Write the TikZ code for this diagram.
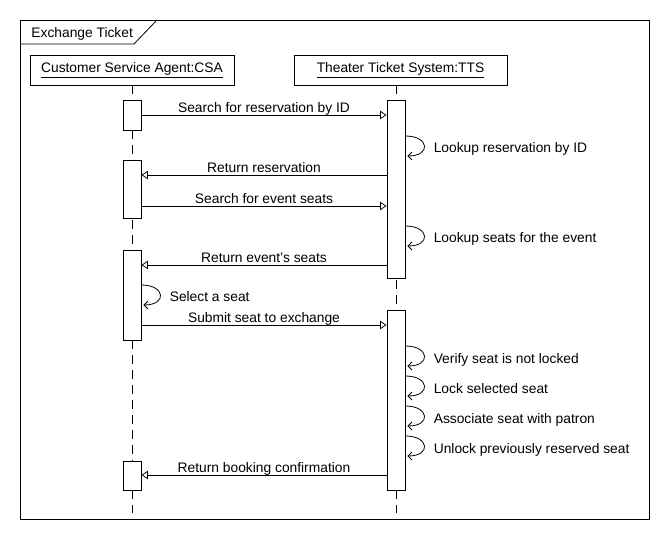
\documentclass[tikz,border=0pt]{standalone}
\usepackage{fontspec}
\setmainfont{Liberation Sans}
\usetikzlibrary{arrows.meta,calc}

\tikzset{
  txt/.style={font=\fontsize{13.8}{16}\selectfont, inner sep=0pt},
  head/.style={txt, draw, fill=white, minimum height=30pt},
  act/.style={draw, fill=white, minimum width=18pt, inner sep=0pt},
  life/.style={dash pattern=on 9pt off 6pt},
  msg/.style={-{Triangle[open,length=6.5pt,width=8.5pt]}},
  call/.style={-{Straight Barb[length=4pt,width=8pt]}},
  lbl/.style={txt, anchor=base, yshift=2.2pt},
  note/.style={txt, anchor=base west},
}

\begin{document}
\begin{tikzpicture}[x=1pt, y=-1pt, line width=0.8pt]
\useasboundingbox (0,0) rectangle (670,540);
% frame
\draw (20,20) rectangle (649,519);
\draw (20,44) -- (134,44) -- (157,20);
\node[txt, anchor=base west] (title) at (31,37.5) {Exchange Ticket};
% lifelines
\node[head, minimum width=204pt] (csa) at (132,70) {\underline{Customer Service Agent:CSA}};
\node[head, minimum width=213pt] (tts) at (400.5,70) {\underline{Theater Ticket System:TTS}};
\coordinate (lc) at (132,513);
\coordinate (lt) at (396,513);
\draw[life] (csa.south -| lc) -- (lc);
\draw[life] (tts.south -| lt) -- (lt);
% activations
\foreach \n/\x/\y/\h in {c1/132/115/30, c2/132/189/58, c3/132/295/90, c4/132/475.5/29,
                         t1/396/189/178, t2/396/400/180}
  \node[act, minimum height=\h*1pt] (\n) at (\x,\y) {};
% messages
\foreach \s/\e/\y/\t in {c1.east/t1.west/115/Search for reservation by ID,
                         t1.west/c2.east/175/Return reservation,
                         c2.east/t1.west/206/Search for event seats,
                         t1.west/c3.east/265/Return event's seats,
                         c3.east/t2.west/325/Submit seat to exchange,
                         t2.west/c4.east/475/Return booking confirmation}
  \draw[msg] (\s |- 0,\y) -- node[lbl] {\t} (\e |- 0,\y);
% self calls
\foreach \a/\y/\t in {t1/153/Lookup reservation by ID, t1/243/Lookup seats for the event,
                      c3/302/Select a seat, t2/363/Verify seat is not locked,
                      t2/393/Lock selected seat, t2/423/Associate seat with patron,
                      t2/453/Unlock previously reserved seat}
{
  \node[note] (n\y) at ($(\a.east |- 0,\y)+(28,0)$) {\t};
  \draw[call] ($(\a.east |- n\y.base)+(0,-17)$) .. controls +(24,0) and +(24,0) .. ($(\a.east |- n\y.base)+(2,3)$);
}
\end{tikzpicture}
\end{document}
